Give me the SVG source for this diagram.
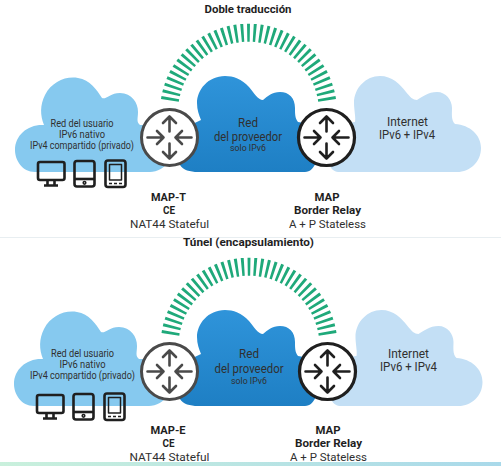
<svg xmlns="http://www.w3.org/2000/svg" xmlns:xlink="http://www.w3.org/1999/xlink" width="501" height="466" viewBox="0 0 501 466">
<style>
text{font-family:"Roboto","Liberation Sans",sans-serif;fill:#303030;text-anchor:middle}
.t{font-size:11.5px;font-weight:700;fill:#1f1f1f}
.s{font-size:10.2px}
.m{font-size:12.2px}
.x{font-size:8.8px}
.b{font-size:11.6px;font-weight:700;fill:#1f1f1f}
.n{font-size:11.8px}
.arc{fill:none;stroke:#1fa97a;stroke-width:18;stroke-dasharray:.44 .56}
.r1{fill:#fff;stroke:#4a4a4a;stroke-width:3}
.r2{fill:#fff;stroke:#1f1f1f;stroke-width:3.2}
.ar{fill:none;stroke-width:2.6;stroke-linecap:round;stroke-linejoin:round}
.dev{fill:none;stroke:#1f1f1f;stroke-width:2.6;stroke-linejoin:round}
</style>
<defs>
<linearGradient id="band" x1="0" x2="1" y1="0" y2="0"><stop offset="0" stop-color="#c9f0dc"/><stop offset="1" stop-color="#a9d9ea"/></linearGradient>
<linearGradient id="mid" x1="0" x2="0" y1="0" y2="1"><stop offset="0" stop-color="#2f94da"/><stop offset="1" stop-color="#1e7fc4"/></linearGradient>
<path id="cl" d="M35 172C22 172 15 160 15 150C15 135 28 124 44 125C40 115 40 105 45 95C52 82 65 76 78 78C90 80 97 90 102 98C106 100 110 93 120 93C132 93 138 103 138 112C138 118 136 122 140 125L170 125L170 160C165 168 157 172 150 172Z" fill="#86c9ef"/>
<path id="cm" d="M180 165C183 170 190 172 198 172L305 172C310 172 314 168 316 162L316 125L298 122C295 118 295 114 295 108C295 98 289 92 280 92C272 92 268 96 263 100C258 100 254 93 249 87C242 79 233 76 225 76C208 76 197 90 197 103C197 110 199 115 201 120L180 130Z" fill="url(#mid)"/>
<path id="cr" d="M340 172C335 172 332 170 330 166L330 125L355 122C356 118 354 110 354 103C354 88 366 76 380 76C392 76 400 84 406 92C410 97 413 100 417 100C422 97 428 92 437 92C446 92 452 100 452 108C452 114 451 120 455 124C470 125 481 135 481 148C481 162 470 172 457 172Z" fill="#c3dff5"/>
<g id="arrows" class="ar">
<path d="M0-6V-21M-6.500-14.500L0-21L6.500-14.500"/>
<path d="M0 6V21M-6.500 14.500L0 21L6.500 14.500"/>
<path d="M-22 0H-6M-12.500-6.500L-6 0L-12.500 6.500"/>
<path d="M22 0H6M12.500-6.500L6 0L12.500 6.500"/>
</g>
<g id="devs" class="dev">
<rect x="38" y="162" width="26.500" height="18" rx="2"/><path d="M47.500 181V184.500M54.500 181V184.500M44 185.500H58"/>
<rect x="74.500" y="161" width="20" height="25.500" rx="2.500"/><path d="M75 179H94"/><circle cx="84.500" cy="182.800" r=".8"/>
<rect x="105.500" y="160.500" width="20" height="26.500" rx="2.500"/><rect x="109.500" y="164.500" width="12" height="15.500" stroke-width="1.500"/><path d="M109 183.500H122" stroke-dasharray="3 2" stroke-width="1.500"/>
</g>
</defs>
<rect width="501" height="466" fill="#fff"/>
<rect x="0" y="237" width="501" height="1" fill="#e8eef1"/>
<rect x="0" y="462" width="501" height="4" fill="url(#band)"/>
<g id="connectors">
<path class="arc" pathLength="36.440" d="M169.900 100.300A79.500 79.500 0 0 1 327.100 100.300"/>
<path class="arc" pathLength="36.440" d="M170.400 334.300A79.500 79.500 0 0 1 327.600 334.300"/>
</g>
<text class="t" x="248" y="13" textLength="87" lengthAdjust="spacingAndGlyphs">Doble traducción</text>
<g id="user-top"><use xlink:href="#cl"/><text class="s" x="82" y="127" textLength="63" lengthAdjust="spacingAndGlyphs">Red del usuario</text><text class="s" x="82" y="138" textLength="46" lengthAdjust="spacingAndGlyphs">IPv6 nativo</text><text class="s" x="82" y="149" textLength="104" lengthAdjust="spacingAndGlyphs">IPv4 compartido (privado)</text><use xlink:href="#devs"/></g>
<g id="provider-top"><use xlink:href="#cm"/><text class="m" x="248" y="127" textLength="20" lengthAdjust="spacingAndGlyphs">Red</text><text class="m" x="248" y="141" textLength="68" lengthAdjust="spacingAndGlyphs">del proveedor</text><text class="x" x="248" y="151" textLength="36" lengthAdjust="spacingAndGlyphs">solo IPv6</text></g>
<g id="internet-top"><use xlink:href="#cr"/><text class="m" x="407.500" y="126" textLength="41" lengthAdjust="spacingAndGlyphs">Internet</text><text class="m" x="407" y="139" textLength="56" lengthAdjust="spacingAndGlyphs">IPv6 + IPv4</text></g>
<g id="ce-top"><circle class="r1" cx="169.500" cy="137.500" r="28"/><use xlink:href="#arrows" x="169.500" y="137.500" stroke="#4a4a4a"/><text class="b" x="168.500" y="201" textLength="35" lengthAdjust="spacingAndGlyphs">MAP-T</text><text class="b" x="169" y="213.500" textLength="12" lengthAdjust="spacingAndGlyphs">CE</text><text class="n" x="169.500" y="227.500" textLength="79" lengthAdjust="spacingAndGlyphs">NAT44 Stateful</text></g>
<g id="br-top"><circle class="r2" cx="326.500" cy="137.500" r="28"/><use xlink:href="#arrows" x="326.500" y="137.500" stroke="#1f1f1f"/><text class="b" x="327" y="201" textLength="25" lengthAdjust="spacingAndGlyphs">MAP</text><text class="b" x="327.500" y="213.500" textLength="67" lengthAdjust="spacingAndGlyphs">Border Relay</text><text class="n" x="327.500" y="227.500" textLength="77" lengthAdjust="spacingAndGlyphs">A + P Stateless</text></g>
<text class="t" x="248.500" y="246" textLength="131" lengthAdjust="spacingAndGlyphs">Túnel (encapsulamiento)</text>
<g id="user-bottom"><use xlink:href="#cl" transform="translate(-1 234)"/><text class="s" x="82.500" y="357" textLength="63" lengthAdjust="spacingAndGlyphs">Red del usuario</text><text class="s" x="82.500" y="368" textLength="46" lengthAdjust="spacingAndGlyphs">IPv6 nativo</text><text class="s" x="82.500" y="379" textLength="105" lengthAdjust="spacingAndGlyphs">IPv4 compartido (privado)</text><use xlink:href="#devs" transform="translate(-1 233)"/></g>
<g id="provider-bottom"><use xlink:href="#cm" transform="translate(0 234)"/><text class="m" x="249" y="358" textLength="20" lengthAdjust="spacingAndGlyphs">Red</text><text class="m" x="249" y="372.500" textLength="69" lengthAdjust="spacingAndGlyphs">del proveedor</text><text class="x" x="249" y="384" textLength="36" lengthAdjust="spacingAndGlyphs">solo IPv6</text></g>
<g id="internet-bottom"><use xlink:href="#cr" transform="translate(1.500 234)"/><text class="m" x="408.500" y="357.500" textLength="41" lengthAdjust="spacingAndGlyphs">Internet</text><text class="m" x="408.500" y="371" textLength="57" lengthAdjust="spacingAndGlyphs">IPv6 + IPv4</text></g>
<g id="ce-bottom"><circle class="r1" cx="169.500" cy="371.500" r="28"/><use xlink:href="#arrows" x="169.500" y="371.500" stroke="#4a4a4a"/><text class="b" x="168" y="434" textLength="35" lengthAdjust="spacingAndGlyphs">MAP-E</text><text class="b" x="168.500" y="446.500" textLength="12" lengthAdjust="spacingAndGlyphs">CE</text><text class="n" x="169.500" y="461" textLength="80" lengthAdjust="spacingAndGlyphs">NAT44 Stateful</text></g>
<g id="br-bottom"><circle class="r2" cx="327.500" cy="371.500" r="28"/><use xlink:href="#arrows" x="327.500" y="371.500" stroke="#1f1f1f"/><text class="b" x="328" y="434" textLength="25" lengthAdjust="spacingAndGlyphs">MAP</text><text class="b" x="328.500" y="446.500" textLength="67" lengthAdjust="spacingAndGlyphs">Border Relay</text><text class="n" x="328.500" y="461" textLength="77" lengthAdjust="spacingAndGlyphs">A + P Stateless</text></g>
</svg>
